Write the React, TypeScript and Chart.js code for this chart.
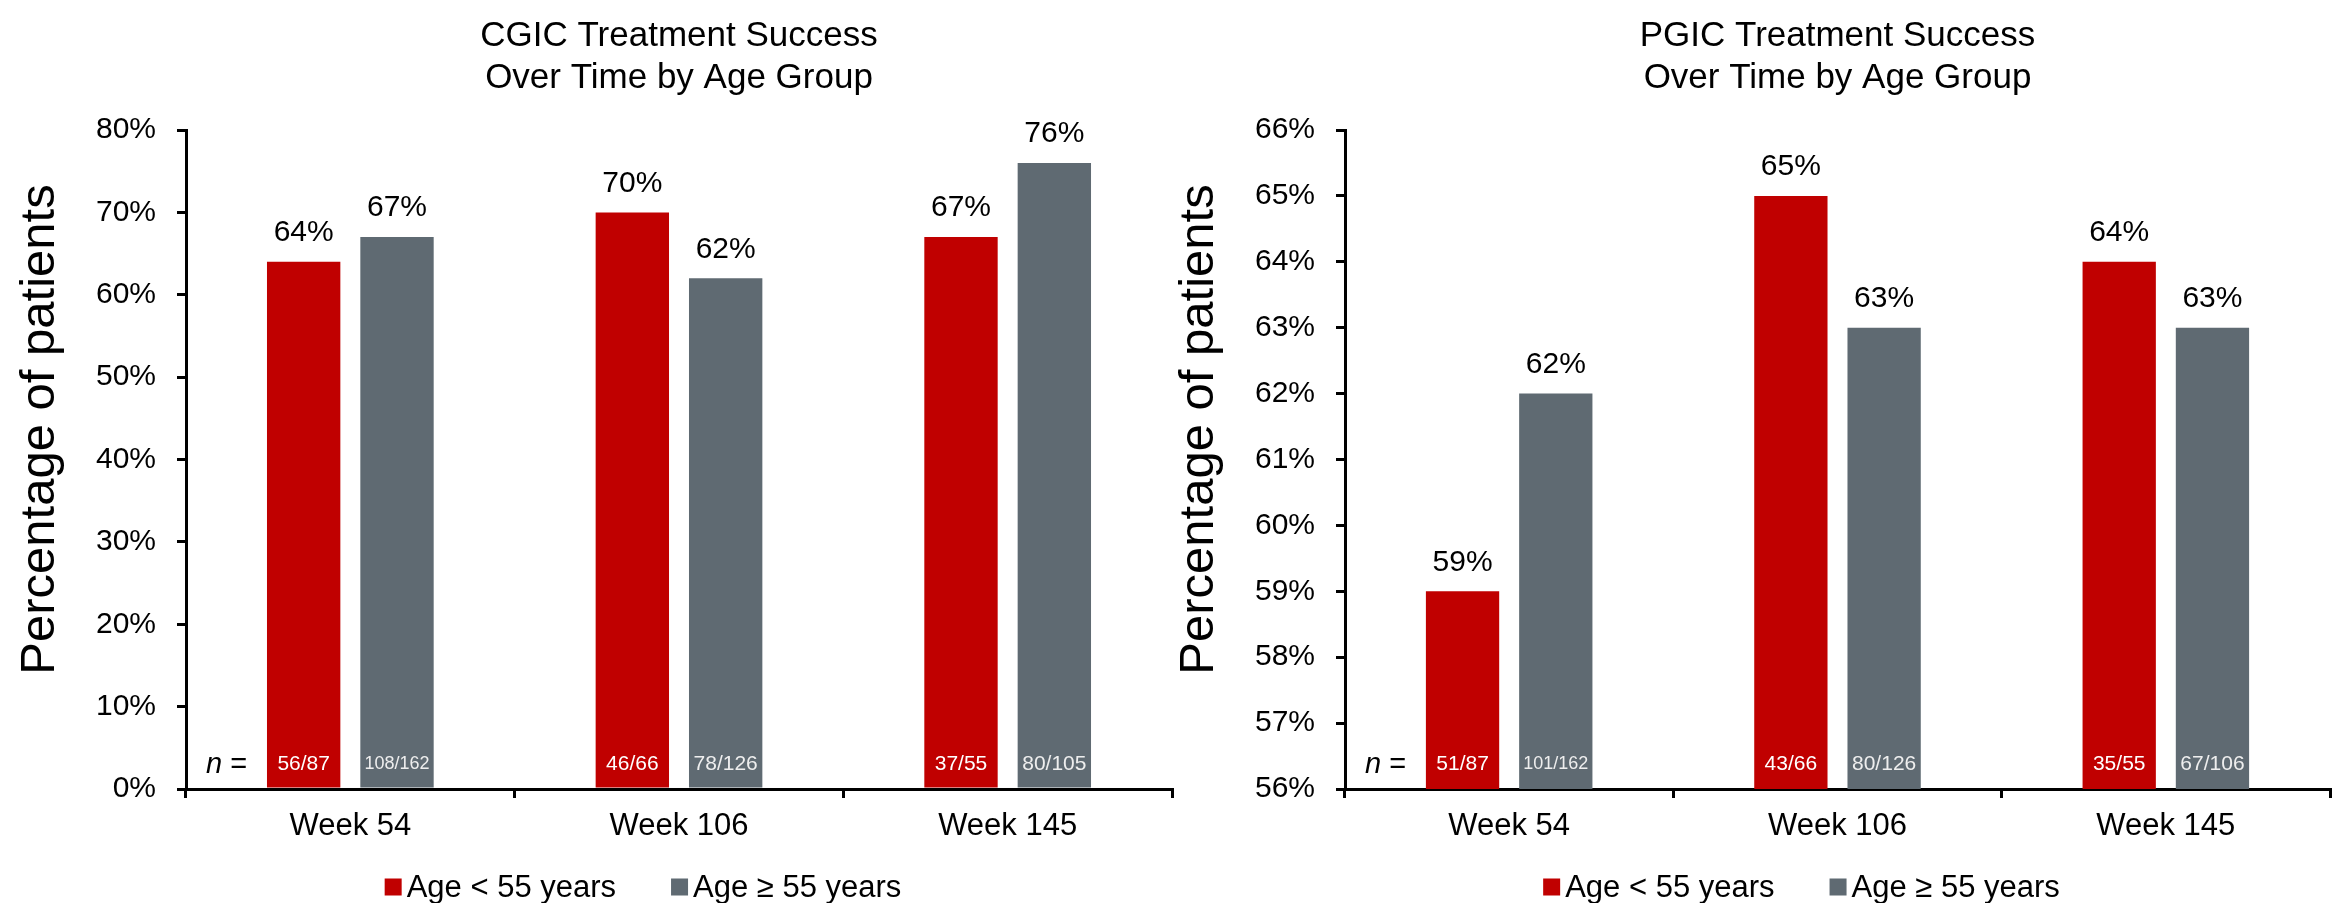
import React, { useEffect, useRef } from "react";
import { Chart, registerables } from "chart.js";

Chart.register(...registerables);

// ---------- data ----------
const categories = ["Week 54", "Week 106", "Week 145"];
const seriesLabels = ["Age < 55 years", "Age \u2265 55 years"];

const cgicTitle = ["CGIC Treatment Success", "Over Time by Age Group"];
const cgicYounger = [64, 70, 67];
const cgicOlder = [67, 62, 76];
const cgicYoungerN = ["56/87", "46/66", "37/55"];
const cgicOlderN = ["108/162", "78/126", "80/105"];
const cgicTicks = { min: 0, max: 80, step: 10 };

const pgicTitle = ["PGIC Treatment Success", "Over Time by Age Group"];
const pgicYounger = [59, 65, 64];
const pgicOlder = [62, 63, 63];
const pgicYoungerN = ["51/87", "43/66", "35/55"];
const pgicOlderN = ["101/162", "80/126", "67/106"];
const pgicTicks = { min: 56, max: 66, step: 1 };

const yAxisTitle = "Percentage of patients";
const nPrefix = "n";

// ---------- style ----------
const FONT = "'Liberation Sans', Arial, Helvetica, sans-serif";
const RED = "#C00000";
const GRAY = "#5F6A72";

function makeDecor(nLabels: string[][], nColors: string[]) {
  return {
    id: "decor",
    afterDatasetsDraw(chart: any) {
      const ctx = chart.ctx;
      const area = chart.chartArea;
      ctx.save();
      chart.data.datasets.forEach((ds: any, di: number) => {
        const meta = chart.getDatasetMeta(di);
        meta.data.forEach((bar: any, i: number) => {
          const p = bar.getProps(["x", "y", "width"], true);
          // value label
          ctx.fillStyle = "#000";
          ctx.font = `30px ${FONT}`;
          ctx.textAlign = "center";
          ctx.textBaseline = "middle";
          ctx.fillText(`${ds.data[i]}%`, p.x, p.y - 29);
          // n label inside bar
          const t = nLabels[di][i];
          let size = 21;
          ctx.font = `${size}px ${FONT}`;
          while (ctx.measureText(t).width > p.width - 8 && size > 10) {
            size -= 1;
            ctx.font = `${size}px ${FONT}`;
          }
          ctx.fillStyle = nColors[di];
          ctx.fillText(t, p.x, area.bottom - 25);
        });
      });
      // "n ="
      ctx.fillStyle = "#000";
      ctx.textAlign = "left";
      ctx.textBaseline = "middle";
      ctx.font = `italic 29px ${FONT}`;
      const nx = area.left + 20;
      ctx.fillText(nPrefix, nx, area.bottom - 24);
      const nw = ctx.measureText(nPrefix).width;
      ctx.font = `29px ${FONT}`;
      ctx.fillText(" =", nx + nw, area.bottom - 24);

      // y-axis title
      ctx.save();
      ctx.translate(area.left - 132, (area.top + area.bottom) / 2 - 30);
      ctx.rotate(-Math.PI / 2);
      ctx.font = `49px ${FONT}`;
      ctx.textAlign = "center";
      ctx.textBaseline = "alphabetic";
      ctx.fillText(yAxisTitle, 0, 0);
      ctx.restore();

      // legend
      ctx.font = `31px ${FONT}`;
      const box = 17;
      const gapText = 5;
      const gapItem = 55;
      const items = chart.data.datasets.map((ds: any) => ({
        label: ds.label,
        color: ds.backgroundColor,
        w: ctx.measureText(ds.label).width,
      }));
      let total = 0;
      items.forEach((it: any, k: number) => {
        total += box + gapText + it.w + (k < items.length - 1 ? gapItem : 0);
      });
      const cx = (area.left + area.right) / 2 - 36;
      let lx = cx - total / 2;
      const ly = 888;
      items.forEach((it: any) => {
        ctx.fillStyle = it.color;
        ctx.fillRect(lx, ly - box / 2 - 1, box, box);
        ctx.fillStyle = "#000";
        ctx.textAlign = "left";
        ctx.textBaseline = "middle";
        ctx.fillText(it.label, lx + box + gapText, ly);
        lx += box + gapText + it.w + gapItem;
      });
      ctx.restore();
    },
  };
}

type PanelProps = {
  left: number;
  width: number;
  yWidth: number;
  padRight: number;
  title: string[];
  younger: number[];
  older: number[];
  youngerN: string[];
  olderN: string[];
  ticks: { min: number; max: number; step: number };
};

function Panel(props: PanelProps) {
  const ref = useRef<HTMLCanvasElement>(null);
  useEffect(() => {
    if (!ref.current) return;
    const chart = new Chart(ref.current, {
      type: "bar",
      data: {
        labels: categories,
        datasets: [
          {
            label: seriesLabels[0],
            data: props.younger,
            backgroundColor: RED,
            categoryPercentage: 0.568,
            barPercentage: 0.786,
          },
          {
            label: seriesLabels[1],
            data: props.older,
            backgroundColor: GRAY,
            categoryPercentage: 0.568,
            barPercentage: 0.786,
          },
        ],
      },
      options: {
        responsive: false,
        animation: false,
        devicePixelRatio: 1,
        layout: { padding: { left: 0, right: props.padRight, top: 0, bottom: 58 } },
        plugins: {
          legend: { display: false },
          tooltip: { enabled: false },
          title: {
            display: true,
            text: props.title,
            fullSize: false,
            color: "#000",
            font: { family: FONT, size: 35, weight: "normal", lineHeight: 42 / 35 },
            padding: { top: 15, bottom: 31 },
          },
        },
        scales: {
          x: {
            grid: {
              display: true,
              drawOnChartArea: false,
              drawTicks: true,
              tickLength: 9,
              lineWidth: 3,
              color: "#000",
              offset: true,
            },
            border: { display: true, width: 3, color: "#000" },
            ticks: {
              color: "#000",
              font: { family: FONT, size: 31 },
              padding: 10,
              maxRotation: 0,
            },
            afterFit: (s: any) => {
              s.height = 56;
            },
          },
          y: {
            min: props.ticks.min,
            max: props.ticks.max,
            ticks: {
              stepSize: props.ticks.step,
              color: "#000",
              font: { family: FONT, size: 30 },
              padding: 21,
              callback: (v: any) => `${v}%`,
            },
            grid: {
              display: true,
              drawOnChartArea: false,
              drawTicks: true,
              tickLength: 9,
              lineWidth: 3,
              color: "#000",
            },
            border: { display: true, width: 3, color: "#000" },
            afterFit: (s: any) => {
              s.width = props.yWidth;
            },
          },
        },
      },
      plugins: [makeDecor([props.youngerN, props.olderN], ["#FFFFFF", "#EEEEEE"])],
    } as any);
    return () => chart.destroy();
  }, []);
  return (
    <canvas
      ref={ref}
      width={props.width}
      height={903}
      style={{ position: "absolute", left: props.left, top: 0, width: props.width, height: 903 }}
    />
  );
}

export default function App() {
  return (
    <div
      style={{
        position: "absolute",
        left: 0,
        top: 0,
        width: 2341,
        height: 903,
        background: "#fff",
        overflow: "hidden",
      }}
    >
      <Panel
        left={0}
        width={1180}
        yWidth={186}
        padRight={8}
        title={cgicTitle}
        younger={cgicYounger}
        older={cgicOlder}
        youngerN={cgicYoungerN}
        olderN={cgicOlderN}
        ticks={cgicTicks}
      />
      <Panel
        left={1150}
        width={1191}
        yWidth={195}
        padRight={11}
        title={pgicTitle}
        younger={pgicYounger}
        older={pgicOlder}
        youngerN={pgicYoungerN}
        olderN={pgicOlderN}
        ticks={pgicTicks}
      />
    </div>
  );
}
